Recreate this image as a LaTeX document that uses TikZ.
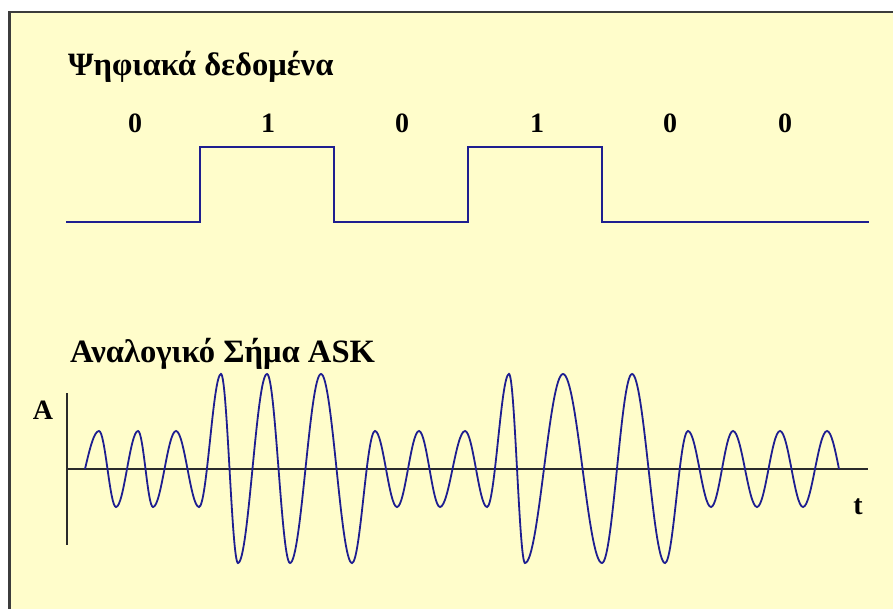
\documentclass[tikz,border=0pt]{standalone}
\usepackage{fontspec}
\setmainfont{Liberation Serif}
\definecolor{bgyellow}{HTML}{FFFDCB}
\definecolor{framegray}{HTML}{3C3C3C}
\definecolor{sigblue}{HTML}{1E1E90}
\definecolor{axisgray}{HTML}{2A2A2A}
\begin{document}
\begin{tikzpicture}[x=1pt,y=-1pt,
  lbl/.style={inner sep=0pt, font=\fontsize{32.6}{33}\selectfont\bfseries},
  axlbl/.style={inner sep=0pt, font=\fontsize{28}{28}\selectfont\bfseries},
  digit/.style={inner sep=0pt, anchor=base, font=\fontsize{28}{28}\selectfont\bfseries},
  sig/.style={draw=sigblue, line width=2pt, line join=miter},
  wave/.style={draw=sigblue, line width=1.8pt},
  axis/.style={draw=axisgray, line width=2pt},
  frameline/.style={draw=framegray, line width=2.5pt}]
\useasboundingbox (0,0) rectangle (893,609);
\fill[white] (0,0) rectangle (893,609);
\fill[bgyellow] (9.5,12) rectangle (893,609);
\draw[frameline] (9.5,609) -- (9.5,12) -- (893,12);

% digital data
\node[lbl, anchor=base west] (title1) at (68,76) {Ψηφιακά δεδομένα};
\node[digit] (b1) at (135,133) {0};
\node[digit] (b2) at (268,133) {1};
\node[digit] (b3) at (402,133) {0};
\node[digit] (b4) at (537,133) {1};
\node[digit] (b5) at (670,133) {0};
\node[digit] (b6) at (785,133) {0};
\draw[sig] (66,222) -- (200,222) -- (200,147) -- (334,147) -- (334,222)
  -- (468,222) -- (468,147) -- (602,147) -- (602,222) -- (869,222);

% analog ASK
\node[lbl, anchor=base west] (title2) at (70,362) {Αναλογικό Σήμα ASK};
\node[axlbl, anchor=base] (labA) at (43,419) {A};
\node[axlbl, anchor=base] (labT) at (858,514) {t};
\coordinate (ytop) at (67,393);
\coordinate (ybot) at (67,545);
\coordinate (orig) at (67,469);
\coordinate (xend) at (868,469);
\draw[axis] (ytop) -- (ybot);
\draw[axis] (orig) -- (xend);

\draw[wave] (85,469)
 .. controls (89.7,449) and (94,431) .. (99,431)
 .. controls (105.2,431) and (109.8,507) .. (116,507)
 .. controls (124,507) and (130,431) .. (138,431)
 .. controls (143.5,431) and (147.5,507) .. (153,507)
 .. controls (161.4,507) and (167.6,431) .. (176,431)
 .. controls (184.4,431) and (190.6,507) .. (199,507)
 .. controls (207,507) and (213,374) .. (221,374)
 .. controls (227.2,374) and (231.8,563) .. (238,563)
 .. controls (248.6,563) and (256.4,374) .. (267,374)
 .. controls (275.4,374) and (281.6,563) .. (290,563)
 .. controls (301.3,563) and (309.7,374) .. (321,374)
 .. controls (332.3,374) and (340.7,563) .. (352,563)
 .. controls (360.4,563) and (366.6,431) .. (375,431)
 .. controls (383,431) and (389,507) .. (397,507)
 .. controls (405,507) and (411,431) .. (419,431)
 .. controls (426.6,431) and (432.4,507) .. (440,507)
 .. controls (449.1,507) and (455.9,431) .. (465,431)
 .. controls (473,431) and (479,507) .. (487,507)
 .. controls (495,507) and (501,374) .. (509,374)
 .. controls (514.8,374) and (519.2,563) .. (525,563)
 .. controls (538.8,563) and (549.2,374) .. (563,374)
 .. controls (577.2,374) and (587.8,563) .. (602,563)
 .. controls (612.9,563) and (621.1,374) .. (632,374)
 .. controls (644,374) and (653,563) .. (665,563)
 .. controls (673.4,563) and (679.6,431) .. (688,431)
 .. controls (696.4,431) and (702.6,507) .. (711,507)
 .. controls (719,507) and (725,431) .. (733,431)
 .. controls (741.7,431) and (748.3,507) .. (757,507)
 .. controls (765.4,507) and (771.6,431) .. (780,431)
 .. controls (788.4,431) and (794.6,507) .. (803,507)
 .. controls (811.7,507) and (818.3,431) .. (827,431)
 .. controls (831.3,431) and (835,449) .. (839,469);
\end{tikzpicture}
\end{document}
